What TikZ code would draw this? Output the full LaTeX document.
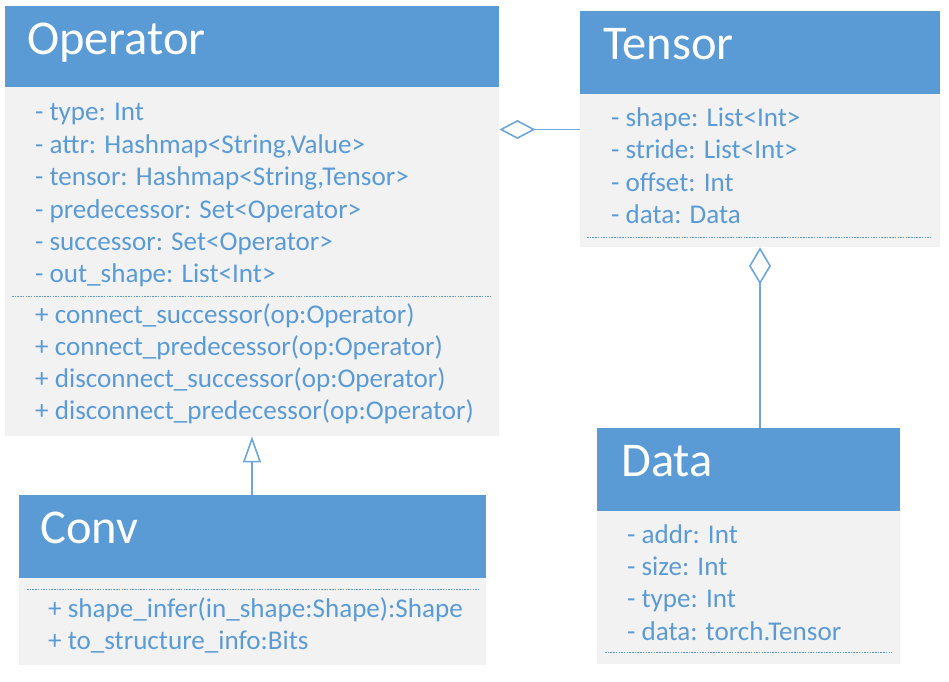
\documentclass[tikz,border=0pt]{standalone}
\usepackage{fontspec}
\setmainfont{Carlito}
\usetikzlibrary{arrows.meta}
\definecolor{umlblue}{HTML}{5B9BD5}
\definecolor{umlbody}{HTML}{F2F2F2}
\definecolor{umlline}{HTML}{6FA6DA}
\tikzset{
  hdr/.style={fill=umlblue, draw=none, anchor=north west, inner sep=0pt},
  bdy/.style={fill=umlbody, draw=none, anchor=north west, inner sep=0pt},
  ttl/.style={anchor=base west, inner sep=0pt, text=white, font=\fontsize{48.5}{58}\selectfont},
  attr/.style={anchor=base west, inner sep=0pt, text=umlblue, font=\fontsize{27.1}{32}\selectfont},
  sep/.style={draw=umlblue, line width=1pt, dash pattern=on 1.5pt off 1.2pt},
  conn/.style={draw=umlline, line width=1.6pt},
}
\begin{document}
\begin{tikzpicture}[x=1pt,y=-1pt]
\useasboundingbox[fill=white] (0,0) rectangle (949,681);
% Operator
\node[hdr, minimum width=494pt, minimum height=81pt] (opH) at (5,6) {};
\node[bdy, minimum width=494pt, minimum height=349pt] (opB) at (5,87) {};
\node[ttl] (opT) at (27,54) {Operator};
\node[attr] (op1) at (35,120) {- type: Int};
\node[attr] (op2) at (35,153) {- attr: Hashmap<String,Value>};
\node[attr] (op3) at (35,185) {- tensor: Hashmap<String,Tensor>};
\node[attr] (op4) at (35,218) {- predecessor: Set<Operator>};
\node[attr] (op5) at (35,250) {- successor: Set<Operator>};
\node[attr] (op6) at (35,282) {- out\_shape: List<Int>};
\coordinate (opS1) at (12,296); \coordinate (opS2) at (492,296);
\draw[sep] (opS1) -- (opS2);
\node[attr] (om1) at (35,323) {+ connect\_successor(op:Operator)};
\node[attr] (om2) at (35,355) {+ connect\_predecessor(op:Operator)};
\node[attr] (om3) at (35,387) {+ disconnect\_successor(op:Operator)};
\node[attr] (om4) at (35,419) {+ disconnect\_predecessor(op:Operator)};
% Tensor
\node[hdr, minimum width=360pt, minimum height=83pt] (tH) at (580,11) {};
\node[bdy, minimum width=360pt, minimum height=153pt] (tB) at (580,94) {};
\node[ttl] (tT) at (603,59) {Tensor};
\node[attr] (t1) at (611,126) {- shape: List<Int>};
\node[attr] (t2) at (611,158.5) {- stride: List<Int>};
\node[attr] (t3) at (611,191) {- offset: Int};
\node[attr] (t4) at (611,223) {- data: Data};
\coordinate (tS1) at (587,237); \coordinate (tS2) at (932,237);
\draw[sep] (tS1) -- (tS2);
% Data
\node[hdr, minimum width=303pt, minimum height=83pt] (dH) at (597,428) {};
\node[bdy, minimum width=303pt, minimum height=153pt] (dB) at (597,511) {};
\node[ttl] (dT) at (621,476) {Data};
\node[attr] (d1) at (627,543) {- addr: Int};
\node[attr] (d2) at (627,575) {- size: Int};
\node[attr] (d3) at (627,607.5) {- type: Int};
\node[attr] (d4) at (627,640) {- data: torch.Tensor};
\coordinate (dS1) at (605,652); \coordinate (dS2) at (892,652);
\draw[sep] (dS1) -- (dS2);
% Conv
\node[hdr, minimum width=467pt, minimum height=83pt] (cH) at (19,495) {};
\node[bdy, minimum width=467pt, minimum height=87pt] (cB) at (19,578) {};
\node[ttl] (cT) at (40,543) {Conv};
\coordinate (cS1) at (27,589); \coordinate (cS2) at (479,589);
\draw[sep] (cS1) -- (cS2);
\node[attr] (c1) at (48,617) {+ shape\_infer(in\_shape:Shape):Shape};
\node[attr] (c2) at (48,649) {+ to\_structure\_info:Bits};
% connectors
\coordinate (aggA) at (580,129.5);
\draw[conn, -{Diamond[open, length=36pt, width=19pt, line width=1.6pt]}] (aggA) -- (opB.east |- aggA);
\coordinate (aggB) at (760,428);
\draw[conn, -{Diamond[open, length=37pt, width=22pt, line width=1.6pt]}] (aggB) -- (tB.south -| aggB);
\coordinate (inhA) at (252,495);
\draw[conn, -{Triangle[open, length=26pt, width=18pt, line width=1.6pt]}] (inhA) -- (opB.south -| inhA);
\end{tikzpicture}
\end{document}
